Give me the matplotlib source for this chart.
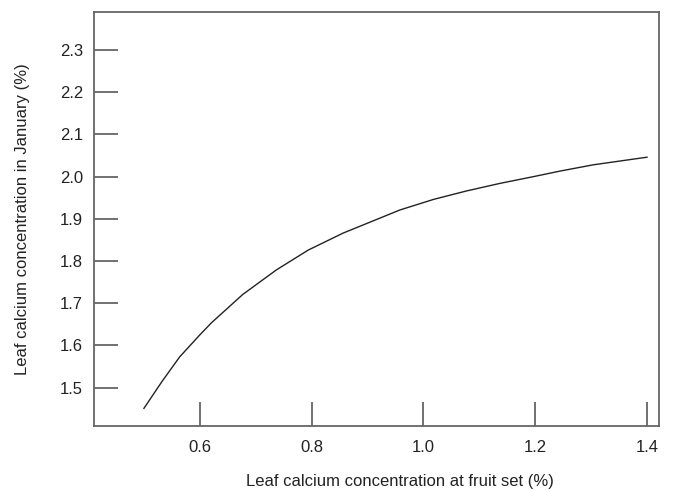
import matplotlib
matplotlib.use("Agg")
import matplotlib.pyplot as plt

# Data
x_fruitset = [0.500, 0.532, 0.564, 0.582, 0.600, 0.621, 0.677, 0.737, 0.794,
              0.856, 0.958, 1.018, 1.077, 1.137, 1.197, 1.244, 1.304, 1.400]
y_january = [1.451, 1.514, 1.573, 1.599, 1.625, 1.654, 1.721, 1.779, 1.826,
             1.866, 1.921, 1.946, 1.966, 1.984, 2.000, 2.013, 2.028, 2.046]

x_ticks = [0.6, 0.8, 1.0, 1.2, 1.4]
y_ticks = [1.5, 1.6, 1.7, 1.8, 1.9, 2.0, 2.1, 2.2, 2.3]

plt.rcParams['font.family'] = ['Liberation Sans', 'DejaVu Sans']

fig = plt.figure(figsize=(6.76, 4.91), dpi=100)
ax = fig.add_axes([94/676, 65/491, (659-94)/676, (426-12)/491])

ax.plot(x_fruitset, y_january, color='#222222', lw=1.0,
        solid_joinstyle='round')

ax.set_xlim(0.4107, 1.4215)
ax.set_ylim(1.4092, 2.3900)
ax.set_xticks(x_ticks)
ax.set_xticklabels([f"{v:.1f}" for v in x_ticks])
ax.set_yticks(y_ticks)
ax.set_yticklabels([f"{v:.1f}" for v in y_ticks])

for s in ax.spines.values():
    s.set_color('#666666')
    s.set_linewidth(1.3)

ax.tick_params(direction='in', length=17, width=1.3, color='#666666',
               labelsize=12, labelcolor='#222222', pad=8)
ax.tick_params(axis='x', pad=10)

ax.set_xlabel('Leaf calcium concentration at fruit set (%)', fontsize=12,
              color='#222222', labelpad=14)
ax.xaxis.label.set_x(0.541)
ax.set_ylabel('Leaf calcium concentration in January (%)', fontsize=12,
              color='#222222', labelpad=21)

fig.savefig('out.png', dpi=100)
